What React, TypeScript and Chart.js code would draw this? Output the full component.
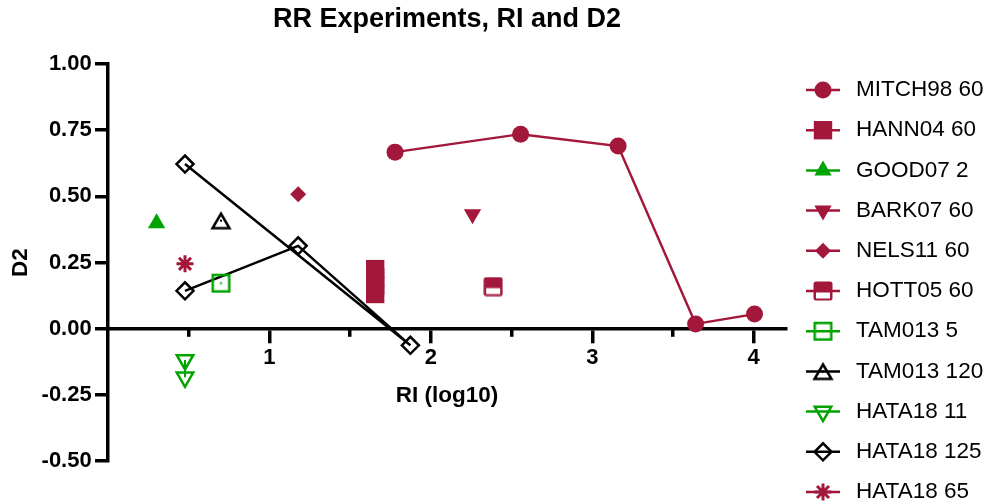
import React, { useEffect, useRef } from 'react';
import { Chart, registerables, PointElement } from 'chart.js';

Chart.register(...registerables);

const FONT = '"Liberation Sans", Arial, Helvetica, sans-serif';
const CRIMSON = '#A3173A';
const GREEN = '#00A300';
const BLACK = '#000000';
const NONE = 'rgba(0,0,0,0)';

// ---- text ----
const chartTitle = 'RR Experiments, RI and D2';
const xAxisTitle = 'RI (log10)';
const yAxisTitle = 'D2';

// ---- axes ----
const xMin = 0;
const xMax = 4.2;
const yMin = -0.5;
const yMax = 1.0;
const xMajorTicks = [1, 2, 3, 4];
const xMinorTicks = [0.5, 1.5, 2.5, 3.5];
const yTickValues = [-0.5, -0.25, 0, 0.25, 0.5, 0.75, 1.0];

// ---- series (x = RI log10, y = D2) ----
const mitch98X = [1.778, 2.556, 3.16, 3.64, 4.005];
const mitch98Y = [0.667, 0.735, 0.69, 0.018, 0.055];
const hann04X = [1.655, 1.655, 1.655, 1.655];
const hann04Y = [0.131, 0.162, 0.194, 0.225];
const good07X = [0.301];
const good07Y = [0.398];
const bark07X = [2.258];
const bark07Y = [0.432];
const nels11X = [1.178];
const nels11Y = [0.508];
const hott05X = [2.386];
const hott05Y = [0.159];
const tam013_5X = [0.7];
const tam013_5Y = [0.172];
const tam013_120X = [0.7];
const tam013_120Y = [0.408];
const hata18_11X = [0.477, 0.477];
const hata18_11Y = [-0.118, -0.184];
const hata18_125X = [0.477, 1.178, 1.873, 0.477];
const hata18_125Y = [0.143, 0.313, -0.063, 0.622];
const hata18_65X = [0.477];
const hata18_65Y = [0.245];

const toPoints = (xs: number[], ys: number[]) => xs.map((x, i) => ({ x, y: ys[i] }));

function makeCanvas(w: number, h: number, draw: (c: CanvasRenderingContext2D) => void) {
  const c = document.createElement('canvas');
  c.width = w;
  c.height = h;
  const ctx = c.getContext('2d') as CanvasRenderingContext2D;
  draw(ctx);
  return c;
}

function makeMarkers() {
  const hott = makeCanvas(20, 20, (ctx) => {
    ctx.fillStyle = CRIMSON;
    ctx.beginPath();
    (ctx as any).roundRect(0.5, 0.5, 19, 19, 2.5);
    ctx.fill();
    ctx.fillStyle = '#ffffff';
    ctx.fillRect(3, 11.5, 14, 6);
  });
  const tamSquare = makeCanvas(21, 21, (ctx) => {
    ctx.strokeStyle = GREEN;
    ctx.lineWidth = 2.5;
    ctx.strokeRect(2.25, 2.25, 16.5, 16.5);
    ctx.fillStyle = GREEN;
    ctx.fillRect(9.5, 9.5, 2, 2);
  });
  const tamTri = makeCanvas(24, 22, (ctx) => {
    ctx.strokeStyle = BLACK;
    ctx.lineWidth = 2.5;
    ctx.lineJoin = 'miter';
    ctx.beginPath();
    ctx.moveTo(12, 4);
    ctx.lineTo(20.5, 18.5);
    ctx.lineTo(3.5, 18.5);
    ctx.closePath();
    ctx.stroke();
    ctx.fillStyle = BLACK;
    ctx.fillRect(11, 10, 2, 2);
  });
  return { hott, tamSquare, tamTri };
}

const prismLegend = {
  id: 'prismLegend',
  afterDraw(chart: any) {
    const { ctx, chartArea } = chart;
    const lineX0 = chartArea.right + 20;
    const lineX1 = lineX0 + 34;
    const markX = (lineX0 + lineX1) / 2;
    const textX = lineX1 + 16;
    const y0 = chartArea.top + 26;
    const step = 40.2;
    ctx.save();
    chart.data.datasets.forEach((d: any, i: number) => {
      const cy = y0 + i * step;
      ctx.strokeStyle = d.borderColor;
      ctx.lineWidth = 2.5;
      ctx.beginPath();
      ctx.moveTo(lineX0, cy);
      ctx.lineTo(lineX1, cy);
      ctx.stroke();
      const pe: any = new PointElement({} as any);
      pe.x = markX;
      pe.y = cy;
      pe.options = {
        pointStyle: d.pointStyle,
        rotation: d.pointRotation || 0,
        radius: d.pointRadius,
        borderWidth: d.pointBorderWidth,
        backgroundColor: d.pointBackgroundColor,
        borderColor: d.pointBorderColor,
      };
      pe.draw(ctx);
      ctx.fillStyle = '#000';
      ctx.font = `22.5px ${FONT}`;
      ctx.textBaseline = 'middle';
      ctx.textAlign = 'left';
      ctx.fillText(d.label, textX, cy);
    });
    ctx.restore();
  },
};

export default function App() {
  const canvasRef = useRef<HTMLCanvasElement | null>(null);

  useEffect(() => {
    if (!canvasRef.current) return;
    const m = makeMarkers();
    Chart.defaults.font.family = FONT;
    Chart.defaults.color = '#000';

    const base = { fill: false, tension: 0, pointHoverRadius: 0 };
    const datasets: any[] = [
      { ...base, label: 'MITCH98 60', data: toPoints(mitch98X, mitch98Y), showLine: true, borderColor: CRIMSON, borderWidth: 2.5, pointStyle: 'circle', pointRadius: 8.5, pointBackgroundColor: CRIMSON, pointBorderColor: CRIMSON, pointBorderWidth: 0 },
      { ...base, label: 'HANN04 60', data: toPoints(hann04X, hann04Y), showLine: false, borderColor: CRIMSON, pointStyle: 'rect', pointRadius: 13, pointBackgroundColor: CRIMSON, pointBorderColor: CRIMSON, pointBorderWidth: 0 },
      { ...base, label: 'GOOD07 2', data: toPoints(good07X, good07Y), showLine: false, borderColor: GREEN, pointStyle: 'triangle', pointRadius: 10, pointBackgroundColor: GREEN, pointBorderColor: GREEN, pointBorderWidth: 0 },
      { ...base, label: 'BARK07 60', data: toPoints(bark07X, bark07Y), showLine: false, borderColor: CRIMSON, pointStyle: 'triangle', pointRotation: 180, pointRadius: 10, pointBackgroundColor: CRIMSON, pointBorderColor: CRIMSON, pointBorderWidth: 0 },
      { ...base, label: 'NELS11 60', data: toPoints(nels11X, nels11Y), showLine: false, borderColor: CRIMSON, pointStyle: 'rectRot', pointRadius: 8, pointBackgroundColor: CRIMSON, pointBorderColor: CRIMSON, pointBorderWidth: 0 },
      { ...base, label: 'HOTT05 60', data: toPoints(hott05X, hott05Y), showLine: false, borderColor: CRIMSON, pointStyle: m.hott, pointRadius: 10, pointBackgroundColor: CRIMSON, pointBorderColor: CRIMSON, pointBorderWidth: 0 },
      { ...base, label: 'TAM013 5', data: toPoints(tam013_5X, tam013_5Y), showLine: false, borderColor: GREEN, pointStyle: m.tamSquare, pointRadius: 10, pointBackgroundColor: NONE, pointBorderColor: GREEN, pointBorderWidth: 2.5 },
      { ...base, label: 'TAM013 120', data: toPoints(tam013_120X, tam013_120Y), showLine: false, borderColor: BLACK, pointStyle: m.tamTri, pointRadius: 10, pointBackgroundColor: NONE, pointBorderColor: BLACK, pointBorderWidth: 2.5 },
      { ...base, label: 'HATA18 11', data: toPoints(hata18_11X, hata18_11Y), showLine: true, borderColor: GREEN, borderWidth: 2, pointStyle: 'triangle', pointRotation: 180, pointRadius: 9.5, pointBackgroundColor: NONE, pointBorderColor: GREEN, pointBorderWidth: 2.5 },
      { ...base, label: 'HATA18 125', data: toPoints(hata18_125X, hata18_125Y), showLine: true, borderColor: BLACK, borderWidth: 2.5, pointStyle: 'rectRot', pointRadius: 8.5, pointBackgroundColor: NONE, pointBorderColor: BLACK, pointBorderWidth: 2.5 },
      { ...base, label: 'HATA18 65', data: toPoints(hata18_65X, hata18_65Y), showLine: false, borderColor: CRIMSON, pointStyle: 'star', pointRadius: 8.5, pointBackgroundColor: CRIMSON, pointBorderColor: CRIMSON, pointBorderWidth: 3 },
    ];

    const tickFont = { family: FONT, size: 22, weight: 'bold' as const };
    const titleFont = { family: FONT, size: 22.5, weight: 'bold' as const };

    const chart = new Chart(canvasRef.current, {
      type: 'scatter',
      data: { datasets },
      plugins: [prismLegend],
      options: {
        responsive: true,
        maintainAspectRatio: false,
        animation: false,
        events: [],
        layout: { padding: { left: 0, right: 204, top: 0, bottom: 43 } },
        plugins: {
          legend: { display: false },
          tooltip: { enabled: false },
          title: {
            display: true,
            text: chartTitle,
            fullSize: false,
            color: '#000',
            font: { family: FONT, size: 27, weight: 'bold' },
            padding: { top: 3.8, bottom: 27.8 },
          },
        },
        scales: {
          x: {
            type: 'linear',
            axis: 'x',
            position: { y: 0 },
            min: xMin,
            max: xMax,
            afterBuildTicks: (s: any) => { s.ticks = xMajorTicks.map((v) => ({ value: v })); },
            ticks: { font: tickFont, color: '#000', padding: 3.6, maxRotation: 0, autoSkip: false, callback: (v: any) => String(v) },
            grid: { drawOnChartArea: false, drawTicks: true, tickLength: 12.8, lineWidth: 3.5, color: '#000' },
            border: { display: true, width: 3.5, color: '#000' },
            title: { display: true, text: xAxisTitle, color: '#000', font: titleFont, padding: { top: 7, bottom: 0 } },
          },
          xMinor: {
            type: 'linear',
            axis: 'x',
            position: { y: 0 },
            min: xMin,
            max: xMax,
            afterBuildTicks: (s: any) => { s.ticks = xMinorTicks.map((v) => ({ value: v })); },
            ticks: { display: false },
            grid: { drawOnChartArea: false, drawTicks: true, tickLength: 7.8, lineWidth: 3.5, color: '#000' },
            border: { display: false },
          },
          y: {
            type: 'linear',
            position: 'left',
            min: yMin,
            max: yMax,
            afterBuildTicks: (s: any) => { s.ticks = yTickValues.map((v) => ({ value: v })); },
            afterFit: (s: any) => { s.width = 108; },
            ticks: { font: tickFont, color: '#000', padding: 3.3, autoSkip: false, callback: (v: any) => Number(v).toFixed(2) },
            grid: { drawOnChartArea: false, drawTicks: true, tickLength: 13, lineWidth: 3.5, color: '#000' },
            border: { display: true, width: 3.5, color: '#000' },
            title: { display: true, text: yAxisTitle, color: '#000', font: titleFont, padding: { top: 7.5, bottom: 0 } },
          },
        },
      } as any,
    });
    return () => chart.destroy();
  }, []);

  return (
    <div style={{ position: 'fixed', left: 0, top: 0, width: 990, height: 504, background: '#fff' }}>
      <canvas ref={canvasRef} style={{ display: 'block' }} />
    </div>
  );
}
